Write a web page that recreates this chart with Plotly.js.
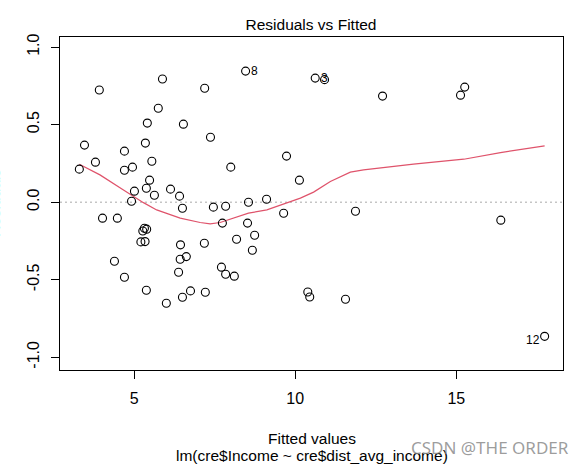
<!DOCTYPE html>
<html>
<head>
<meta charset="utf-8">
<script src="https://cdn.plot.ly/plotly-3.0.1.min.js"></script>
<style>html,body{margin:0;padding:0;background:#fff;}#chart{width:584px;height:464px;}</style>
</head>
<body>
<div id="chart"></div>
<script>
// Fitted values and residuals
var fitted = [3.30, 3.46, 3.80, 3.92, 4.02, 4.39, 4.48, 4.70, 4.70, 4.70, 4.92, 4.95, 5.01,
  5.21, 5.27, 5.32, 5.34, 5.35, 5.38, 5.38, 5.39, 5.41, 5.48, 5.55, 5.63, 5.75, 5.88,
  6.00, 6.13, 6.38, 6.41, 6.43, 6.44, 6.50, 6.50, 6.53, 6.62, 6.75, 7.18, 7.19, 7.21,
  7.37, 7.46, 7.71, 7.74, 7.84, 7.84, 8.00, 8.11, 8.18, 8.46, 8.52, 8.55, 8.67, 8.74,
  9.11, 9.64, 9.73, 10.13, 10.39, 10.45, 10.62, 10.91, 11.56, 11.87, 12.71, 15.13,
  15.26, 16.38, 17.74];
var residuals = [0.213, 0.368, 0.258, 0.723, -0.103, -0.381, -0.103, 0.329, 0.206, -0.484, 0.006, 0.226, 0.071,
  -0.256, -0.186, -0.168, -0.254, 0.381, 0.090, -0.568, -0.174, 0.510, 0.142, 0.264, 0.045, 0.606, 0.794,
  -0.652, 0.084, -0.452, 0.039, -0.368, -0.275, -0.039, -0.613, 0.503, -0.351, -0.572, -0.265, 0.735, -0.581,
  0.419, -0.032, -0.419, -0.135, -0.026, -0.465, 0.226, -0.477, -0.239, 0.845, -0.135, 0.000, -0.310, -0.213,
  0.019, -0.071, 0.297, 0.142, -0.579, -0.611, 0.800, 0.790, -0.626, -0.058, 0.684, 0.690,
  0.742, -0.116, -0.865];

// Smoothed (lowess) curve
var smoothX = [3.30, 3.94, 4.67, 5.29, 5.70, 6.43, 7.05, 7.36, 7.67, 8.08, 8.55, 9.12, 9.53, 10.16, 10.57, 11.09, 11.71, 12.12, 13.67, 15.23, 16.37, 17.74];
var smoothY = [0.245, 0.176, 0.079, -0.003, -0.050, -0.103, -0.131, -0.140, -0.131, -0.103, -0.071, -0.050, -0.022, 0.026, 0.065, 0.133, 0.194, 0.208, 0.245, 0.277, 0.320, 0.363];

// Labelled observations
var idLabels = ["8", "3", "12"];
var idX = [8.46, 10.62, 17.74];
var idY = [0.845, 0.800, -0.865];

// Tick labels
var xTickVals = [5, 10, 15];
var xTickText = ["5", "10", "15"];
var yTickVals = [-1.0, -0.5, 0.0, 0.5, 1.0];
var yTickText = ["-1.0", "-0.5", "0.0", "0.5", "1.0"];

var FONT = "Liberation Sans, Arial, sans-serif";

var traces = [
  {x: smoothX, y: smoothY, type: "scatter", mode: "lines",
   line: {color: "#DF536B", width: 1.2}, hoverinfo: "skip"},
  {x: fitted, y: residuals, type: "scatter", mode: "markers",
   marker: {symbol: "circle-open", size: 8, color: "#000", line: {width: 1.1, color: "#000"}}}
];

var annotations = [];
var offsets = [9, 9, -12];
for (var i = 0; i < idLabels.length; i++) {
  annotations.push({x: idX[i], y: idY[i], xref: "x", yref: "y", text: idLabels[i],
    showarrow: false, xshift: offsets[i], yshift: (i === 2 ? -4 : 0),
    font: {family: FONT, size: 12, color: "#000"}});
}
annotations.push({x: 0.5, y: 0, xref: "paper", yref: "paper", xanchor: "center", yanchor: "middle", yshift: -68,
  text: "Fitted values", showarrow: false, font: {family: FONT, size: 15.5, color: "#000"}});
annotations.push({x: 0.5, y: 0, xref: "paper", yref: "paper", xanchor: "center", yanchor: "middle", yshift: -85,
  text: "lm(cre$Income ~ cre$dist_avg_income)", showarrow: false, font: {family: FONT, size: 15.5, color: "#000"}});
annotations.push({x: 0, y: 0.5, xref: "paper", yref: "paper", xanchor: "center", yanchor: "middle",
  xshift: -65.5, textangle: -90,
  text: "Residuals", showarrow: false, font: {family: FONT, size: 15.5, color: "#8FFFFF"}});
annotations.push({x: 1.0, y: 0, xref: "paper", yref: "paper", xanchor: "right", yanchor: "middle",
  xshift: 8, yshift: -77, text: "CSDN @THE ORDER", showarrow: false,
  font: {family: "Noto Sans, sans-serif", size: 17, color: "rgba(140,140,140,0.85)"}});

var layout = {
  width: 584, height: 464, autosize: false,
  margin: {l: 60, r: 21, t: 37, b: 94, pad: 0},
  paper_bgcolor: "#fff", plot_bgcolor: "#fff",
  showlegend: false,
  title: {text: "Residuals vs Fitted", font: {family: FONT, size: 15.5, color: "#000"},
          x: 0.5325, xanchor: "center", y: 0.948, yanchor: "middle"},
  xaxis: {range: [2.70, 18.31], tickmode: "array", tickvals: xTickVals, ticktext: xTickText,
          showgrid: false, zeroline: false, showline: true, mirror: true, linecolor: "#000", linewidth: 1,
          ticks: "outside", ticklen: 8, tickwidth: 1, tickcolor: "#000", ticklabelstandoff: 6,
          tickfont: {family: FONT, size: 16, color: "#000"}},
  yaxis: {range: [-1.082, 1.065], tickmode: "array", tickvals: yTickVals, ticktext: yTickText,
          tickangle: -90,
          showgrid: false, zeroline: false, showline: true, mirror: true, linecolor: "#000", linewidth: 1,
          ticks: "outside", ticklen: 8, tickwidth: 1, tickcolor: "#000", ticklabelstandoff: 6,
          tickfont: {family: FONT, size: 16, color: "#000"}},
  shapes: [{type: "line", xref: "paper", yref: "y", x0: 0, x1: 1, y0: 0, y1: 0,
            line: {color: "#AAAAAA", width: 1, dash: "2px,3px"}, layer: "below"}],
  annotations: annotations
};

Plotly.newPlot("chart", traces, layout, {displayModeBar: false, staticPlot: true});
</script>
</body>
</html>
